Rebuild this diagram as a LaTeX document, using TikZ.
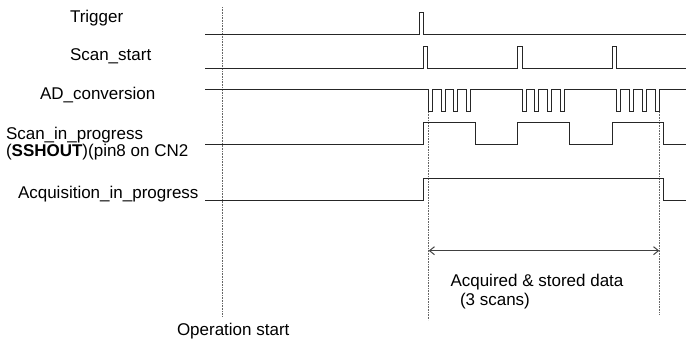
\documentclass[tikz,border=0pt]{standalone}
\usepackage{fontspec}
\setmainfont{Liberation Sans}
\usetikzlibrary{arrows.meta}
\begin{document}
\begin{tikzpicture}[x=1pt,y=-1pt,
  lbl/.style={anchor=base west,inner sep=0pt,outer sep=0pt,font=\fontsize{17}{20}\selectfont},
  wave/.style={line width=1pt,draw=black!85,line join=miter},
  guide/.style={line width=0.6pt,draw=black!60,dash pattern=on 0.8pt off 0.8pt},
  span/.style={line width=1pt,draw=black!75,{Straight Barb[length=5pt,width=8pt]}-{Straight Barb[length=5pt,width=8pt]}}]
\useasboundingbox (0,0) rectangle (686,338);
% labels
\node[lbl] (tTrig) at (70,22.7) {Trigger};
\node[lbl] (tScan) at (70,60.3) {Scan\_start};
\node[lbl] (tAD) at (40,99) {AD\_conversion};
\node[lbl] (tSip) at (6,139.3) {Scan\_in\_progress};
\node[lbl] (tSsh) at (6,156.5) {(\textbf{SSHOUT})(pin8 on CN2};
\node[lbl] (tAcq) at (18,198) {Acquisition\_in\_progress};
\node[lbl] (tOp) at (177,335.5) {Operation start};
\node[lbl] (tData) at (450.5,286.7) {Acquired \& stored data};
\node[lbl] (tScans) at (460,305.3) {(3 scans)};
% guide lines
\coordinate (g0a) at (222,7);   \coordinate (g0b) at (222,316);
\coordinate (g1a) at (428.5,112); \coordinate (g1b) at (428.5,320);
\coordinate (g2a) at (659.3,112); \coordinate (g2b) at (659.3,315);
\draw[guide] (g0a) -- (g0b);
\draw[guide] (g1a) -- (g1b);
\draw[guide] (g2a) -- (g2b);
% Trigger
\draw[wave] (205,34.3) -- (419.5,34.3) -- (419.5,12.7) -- (423.5,12.7) -- (423.5,34.3) -- (686,34.3);
% Scan_start
\draw[wave] (205,68.3)
  -- (423.5,68.3) -- (423.5,46.7) -- (427.7,46.7) -- (427.7,68.3)
  -- (517.7,68.3) -- (517.7,46.7) -- (522,46.7) -- (522,68.3)
  -- (612.3,68.3) -- (612.3,46.7) -- (616.7,46.7) -- (616.7,68.3)
  -- (686,68.3);
% AD_conversion
\draw[wave] (205,89.3)
  foreach \s in {428.5,441,453.5,466,522,534.5,547,560,616,629,642,655}{
    -- (\s,89.3) -- (\s,111.7) -- (\s+4,111.7) -- (\s+4,89.3)
  } -- (686,89.3);
% Scan_in_progress
\draw[wave] (205,144.3)
  -- (423.7,144.3) -- (423.7,122.7) -- (475.3,122.7) -- (475.3,144.3)
  -- (517.7,144.3) -- (517.7,122.7) -- (569.3,122.7) -- (569.3,144.3)
  -- (612,144.3) -- (612,122.7) -- (663.3,122.7) -- (663.3,144.3)
  -- (686,144.3);
% Acquisition_in_progress
\draw[wave] (205,200) -- (423.7,200) -- (423.7,178.3) -- (663.3,178.3) -- (663.3,200) -- (686,200);
% span arrow
\coordinate (aL) at (428.7,250.7);
\coordinate (aR) at (659.3,250.7);
\draw[span] (aL) -- (aR);
\end{tikzpicture}
\end{document}
